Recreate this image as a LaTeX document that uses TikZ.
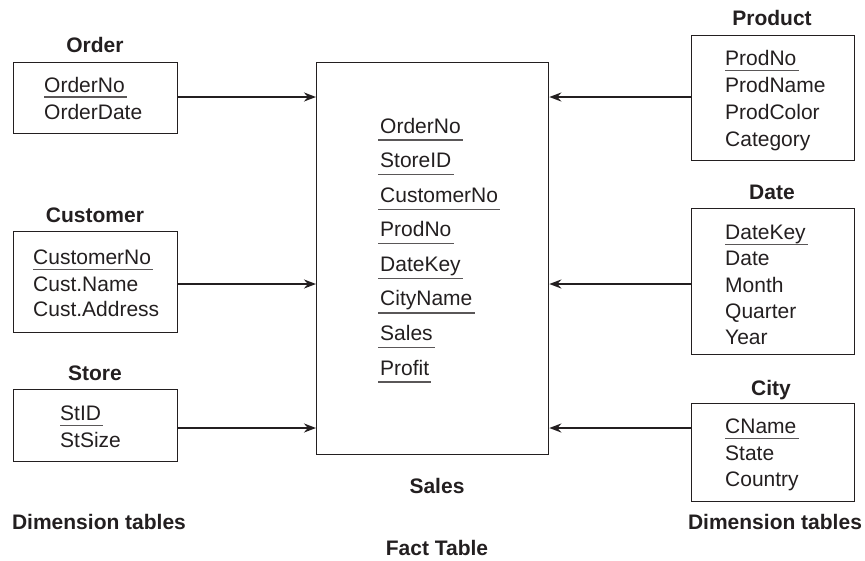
\documentclass[tikz,border=0pt]{standalone}
\usepackage{fontspec}
\setmainfont{Liberation Sans}
\usetikzlibrary{arrows.meta}
\definecolor{ink}{RGB}{35,31,32}
\begin{document}
\begin{tikzpicture}[x=1pt,y=-1pt,
 box/.style={draw=ink,line width=1.3pt,anchor=north west,inner sep=0pt},
 fld/.style={anchor=base west,inner sep=0pt,font=\fontsize{21}{25}\selectfont,text=ink},
 ttl/.style={anchor=base,inner sep=0pt,font=\fontsize{21}{25}\selectfont\bfseries,text=ink},
 ul/.style={draw=ink!75,line width=1.2pt},
 arr/.style={draw=ink,line width=2pt,-{Stealth[length=12pt,width=9pt]}}]
\useasboundingbox (0,0) rectangle (865,560);

% ---------- Fact table ----------
\node[box,minimum width=232pt,minimum height=392pt] (fact) at (316,62) {};
\node[fld] (f1) at (380,133) {OrderNo};
\node[fld] (f2) at (380,167.6) {StoreID};
\node[fld] (f3) at (380,202.1) {CustomerNo};
\node[fld] (f4) at (380,236.7) {ProdNo};
\node[fld] (f5) at (380,271.3) {DateKey};
\node[fld] (f6) at (380,305.9) {CityName};
\node[fld] (f7) at (380,340.4) {Sales};
\node[fld] (f8) at (380,375) {Profit};
\foreach \f in {f1,f2,f3,f4,f5,f6,f7,f8}
  \draw[ul] ([shift={(-2,7)}]\f.base west) -- ([shift={(2,7)}]\f.base east);
\node[ttl] (salesl) at (437,493.5) {Sales};
\node[ttl] (factl) at (437,555.5) {Fact Table};

% ---------- Order ----------
\node[ttl] (ordert) at (95,52.5) {Order};
\node[box,minimum width=164pt,minimum height=71pt] (order) at (13,62) {};
\node[fld] (o1) at (44,92) {OrderNo};
\node[fld] (o2) at (44,119.5) {OrderDate};
\draw[ul] ([shift={(0,5)}]o1.base west) -- ([shift={(2,5)}]o1.base east);

% ---------- Customer ----------
\node[ttl] (custt) at (95,222.5) {Customer};
\node[box,minimum width=164pt,minimum height=101pt] (cust) at (13,231) {};
\node[fld] (c1) at (33,264.5) {CustomerNo};
\node[fld] (c2) at (33,291) {Cust.Name};
\node[fld] (c3) at (33,316.5) {Cust.Address};
\draw[ul] ([shift={(0,5)}]c1.base west) -- ([shift={(2,5)}]c1.base east);

% ---------- Store ----------
\node[ttl] (storet) at (95,380.5) {Store};
\node[box,minimum width=164pt,minimum height=72pt] (store) at (13,389) {};
\node[fld] (s1) at (60,420.5) {StID};
\node[fld] (s2) at (60,447.5) {StSize};
\draw[ul] ([shift={(0,5)}]s1.base west) -- ([shift={(2,5)}]s1.base east);

\node[ttl] (diml) at (99,529.5) {Dimension tables};

% ---------- Product ----------
\node[ttl] (prodt) at (772,25.5) {Product};
\node[box,minimum width=163pt,minimum height=125pt] (prod) at (691,35) {};
\node[fld] (p1) at (725,65.5) {ProdNo};
\node[fld] (p2) at (725,92.5) {ProdName};
\node[fld] (p3) at (725,119.3) {ProdColor};
\node[fld] (p4) at (725,146) {Category};
\draw[ul] ([shift={(0,5)}]p1.base west) -- ([shift={(2,5)}]p1.base east);

% ---------- Date ----------
\node[ttl] (datet) at (772,199.5) {Date};
\node[box,minimum width=163pt,minimum height=146pt] (date) at (691,208) {};
\node[fld] (d1) at (725,239.5) {DateKey};
\node[fld] (d2) at (725,265.8) {Date};
\node[fld] (d3) at (725,292) {Month};
\node[fld] (d4) at (725,318.3) {Quarter};
\node[fld] (d5) at (725,344.5) {Year};
\draw[ul] ([shift={(0,5)}]d1.base west) -- ([shift={(2,5)}]d1.base east);

% ---------- City ----------
\node[ttl] (cityt) at (771,395) {City};
\node[box,minimum width=163pt,minimum height=98pt] (city) at (691,403) {};
\node[fld] (y1) at (725,433.5) {CName};
\node[fld] (y2) at (725,460) {State};
\node[fld] (y3) at (725,486.5) {Country};
\draw[ul] ([shift={(0,5)}]y1.base west) -- ([shift={(2,5)}]y1.base east);

\node[ttl] (dimr) at (775,529.5) {Dimension tables};

% ---------- Connectors ----------
\draw[arr] (order.east |- 0,97) -- (fact.west |- 0,97);
\draw[arr] (cust.east |- 0,284) -- (fact.west |- 0,284);
\draw[arr] (store.east |- 0,428) -- (fact.west |- 0,428);
\draw[arr] (prod.west |- 0,97) -- (fact.east |- 0,97);
\draw[arr] (date.west |- 0,284) -- (fact.east |- 0,284);
\draw[arr] (city.west |- 0,428) -- (fact.east |- 0,428);
\end{tikzpicture}
\end{document}
